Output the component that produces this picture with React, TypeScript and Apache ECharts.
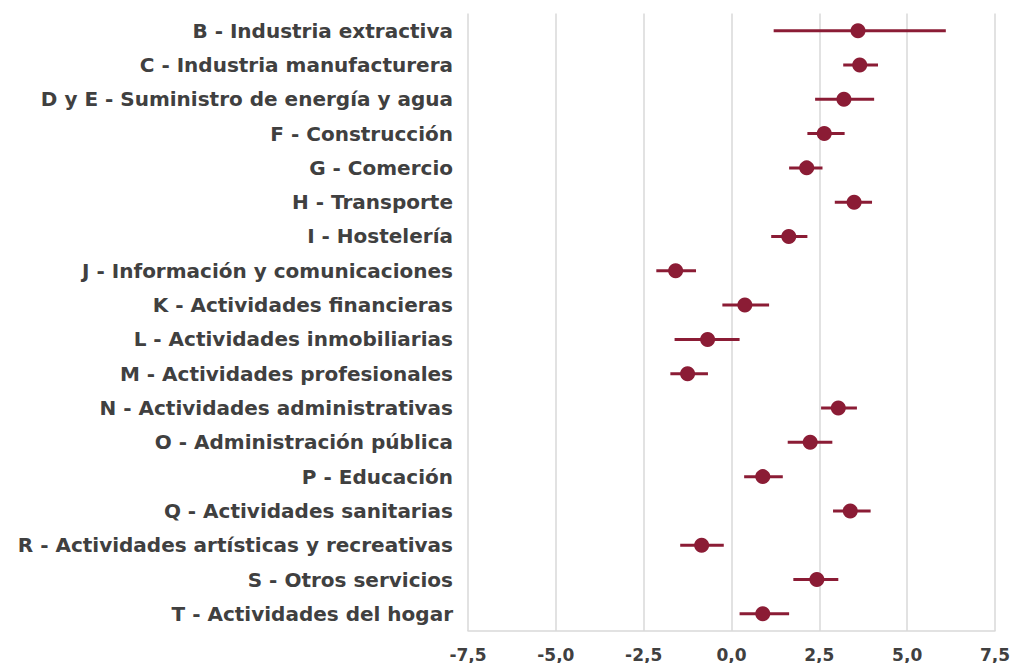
import React, { useEffect, useRef } from "react";
import * as echarts from "echarts";

const categories = [
  "B - Industria extractiva",
  "C - Industria manufacturera",
  "D y E - Suministro de energía y agua",
  "F - Construcción",
  "G - Comercio",
  "H - Transporte",
  "I - Hostelería",
  "J - Información y comunicaciones",
  "K - Actividades financieras",
  "L - Actividades inmobiliarias",
  "M - Actividades profesionales",
  "N - Actividades administrativas",
  "O - Administración pública",
  "P - Educación",
  "Q - Actividades sanitarias",
  "R - Actividades artísticas y recreativas",
  "S - Otros servicios",
  "T - Actividades del hogar",
];

const estimate = [3.6, 3.65, 3.2, 2.64, 2.14, 3.49, 1.63, -1.59, 0.38, -0.68, -1.25, 3.04, 2.24, 0.89, 3.38, -0.85, 2.43, 0.89];
const lower = [1.2, 3.18, 2.38, 2.16, 1.64, 2.94, 1.13, -2.14, -0.26, -1.62, -1.74, 2.55, 1.6, 0.36, 2.89, -1.46, 1.76, 0.23];
const upper = [6.1, 4.17, 4.06, 3.22, 2.59, 4.0, 2.16, -1.01, 1.07, 0.23, -0.67, 3.57, 2.87, 1.46, 3.96, -0.22, 3.04, 1.64];

const xTicks = { min: -7.5, max: 7.5, interval: 2.5 };

const COLOR = "#8b1c35";

export default function App() {
  const ref = useRef<HTMLDivElement>(null);
  useEffect(() => {
    document.body.style.margin = "0";
    const chart = echarts.init(ref.current!, null, { renderer: "svg" });
    const barData = categories.map((_, i) => [lower[i], upper[i], i]);
    const dotData = categories.map((_, i) => [estimate[i], i]);
    chart.setOption({
      animation: false,
      grid: { left: 468, right: 25, top: 13.5, bottom: 31, containLabel: false },
      xAxis: {
        type: "value",
        min: xTicks.min,
        max: xTicks.max,
        interval: xTicks.interval,
        axisLine: { show: true, lineStyle: { color: "#d9d9d9", width: 1.5 } },
        axisTick: { show: false },
        splitLine: { show: true, lineStyle: { color: "#d9d9d9", width: 1.5 } },
        axisLabel: {
          formatter: (v: number) => v.toFixed(1).replace(".", ","),
          color: "#404040",
          fontFamily: "DejaVu Sans",
          fontWeight: "bold",
          fontSize: 17,
          margin: 15,
        },
      },
      yAxis: {
        type: "category",
        data: categories,
        inverse: true,
        axisLine: { show: false },
        axisTick: { show: false },
        splitLine: { show: false },
        axisLabel: {
          color: "#404040",
          fontFamily: "DejaVu Sans",
          fontWeight: "bold",
          fontSize: 20,
          margin: 15,
        },
      },
      series: [
        {
          type: "custom",
          data: barData,
          encode: { x: [0, 1], y: 2 },
          renderItem: (params: any, api: any) => {
            const idx = api.value(2);
            const p1 = api.coord([api.value(0), idx]);
            const p2 = api.coord([api.value(1), idx]);
            return {
              type: "line",
              shape: { x1: p1[0], y1: p1[1], x2: p2[0], y2: p2[1] },
              style: { stroke: COLOR, lineWidth: 3 },
            };
          },
          z: 2,
        },
        {
          type: "scatter",
          data: dotData,
          symbol: "circle",
          symbolSize: 15,
          itemStyle: { color: COLOR, opacity: 1 },
          z: 3,
        },
      ],
    });
    return () => chart.dispose();
  }, []);
  return <div ref={ref} style={{ width: 1020, height: 663 }} />;
}
